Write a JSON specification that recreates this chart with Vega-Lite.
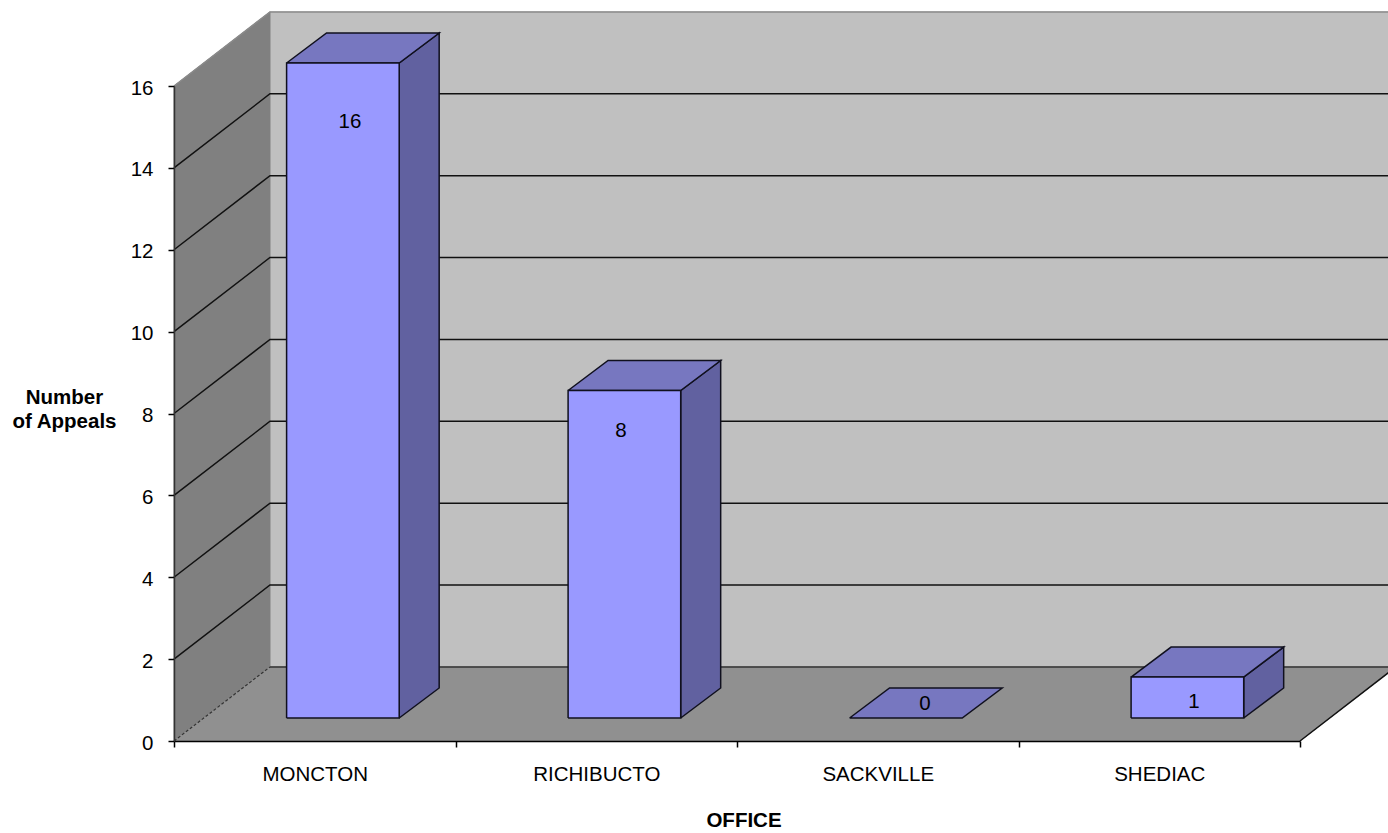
{"$schema":"https://vega.github.io/schema/vega-lite/v6.json","width":1126,"height":655,"autosize":{"type":"none"},"padding":{"left":174,"top":86,"right":88,"bottom":92},"background":"white","config":{"view":{"stroke":null},"font":"Liberation Sans","axis":{"grid":false}},
"data":{"values":[{"office":"MONCTON","appeals":16},{"office":"RICHIBUCTO","appeals":8},{"office":"SACKVILLE","appeals":0},{"office":"SHEDIAC","appeals":1}]},
"transform":[{"window":[{"op":"row_number","as":"n"}]},{"calculate":"datum.n-1","as":"i"}],
"resolve":{"scale":{"x":"independent"},"axis":{"x":"independent","y":"independent"}},
"layer":[
{"mark":{"type":"tick","opacity":0},"encoding":{"x":{"field":"office","type":"nominal","sort":null,"scale":{"paddingInner":0,"paddingOuter":0},"axis":{"title":"OFFICE","titleFont":"Liberation Sans","titleFontSize":20.5,"titleFontWeight":"bold","titleColor":"#000000","titleX":569.5,"titleY":79.5,"titleBaseline":"middle","titleAlign":"center","labelAngle":0,"labelFont":"Liberation Sans","labelFontSize":20.5,"labelColor":"#000000","labelPadding":17,"tickBand":"extent","tickSize":6,"tickColor":"#000000","tickWidth":1.5,"domainColor":"#000000","domainWidth":1.5,"zindex":1}},"y":{"field":"appeals","type":"quantitative","scale":{"domain":[0,16],"nice":false},"axis":{"values":[0,2,4,6,8,10,12,14,16],"title":["Number","of Appeals"],"titleFont":"Liberation Sans","titleFontSize":20.5,"titleFontWeight":"bold","titleColor":"#000000","titleAngle":0,"titleX":-110,"titleY":311,"titleAlign":"center","titleBaseline":"middle","titleLineHeight":24.5,"labelFont":"Liberation Sans","labelFontSize":20.5,"labelColor":"#000000","labelPadding":15,"labelOffset":2,"tickSize":6,"tickColor":"#000000","tickWidth":1.5,"domainColor":"#333333","domainWidth":1.5,"zindex":1}}}},
{"data":{"values":[{"part":"back wall"}]},"transform":[{"calculate":"[0.341,4.341,4.341,0.341,0.341]","as":"px"},{"calculate":"[1.81,1.81,17.81,17.81,1.81]","as":"py"},{"calculate":"[0,1,2,3,4]","as":"ord"},{"flatten":["px","py","ord"]}],"mark":{"type":"line","fill":"#C0C0C0","stroke":"#C0C0C0","strokeWidth":1},"encoding":{"x":{"field":"px","type":"quantitative","scale":{"domain":[0,4]},"axis":null},"y":{"field":"py","type":"quantitative","axis":null},"order":{"field":"ord"}}},
{"data":{"values":[{"part":"left wall"}]},"transform":[{"calculate":"[0,0.341,0.341,0,0]","as":"px"},{"calculate":"[0,1.81,17.81,16,0]","as":"py"},{"calculate":"[0,1,2,3,4]","as":"ord"},{"flatten":["px","py","ord"]}],"mark":{"type":"line","fill":"#808080","stroke":"#808080","strokeWidth":1},"encoding":{"x":{"field":"px","type":"quantitative","scale":{"domain":[0,4]},"axis":null},"y":{"field":"py","type":"quantitative","axis":null},"order":{"field":"ord"}}},
{"data":{"values":[{"part":"floor"}]},"transform":[{"calculate":"[0,0.341,4.341,4,0]","as":"px"},{"calculate":"[0,1.81,1.81,0,0]","as":"py"},{"calculate":"[0,1,2,3,4]","as":"ord"},{"flatten":["px","py","ord"]}],"mark":{"type":"line","fill":"#909090","stroke":"#909090","strokeWidth":1},"encoding":{"x":{"field":"px","type":"quantitative","scale":{"domain":[0,4]},"axis":null},"y":{"field":"py","type":"quantitative","axis":null},"order":{"field":"ord"}}},
{"data":{"values":[{"level":2},{"level":4},{"level":6},{"level":8},{"level":10},{"level":12},{"level":14}]},"transform":[{"calculate":"[0,0.341,4.341]","as":"px"},{"calculate":"[datum.level,datum.level+1.81,datum.level+1.81]","as":"py"},{"calculate":"[0,1,2]","as":"ord"},{"flatten":["px","py","ord"]}],"mark":{"type":"line","stroke":"#111111","strokeWidth":1.5},"encoding":{"x":{"field":"px","type":"quantitative","scale":{"domain":[0,4]},"axis":null},"y":{"field":"py","type":"quantitative","axis":null},"detail":{"field":"level"},"order":{"field":"ord"}}},
{"data":{"values":[{"level":16}]},"transform":[{"calculate":"[0,0.341,4.341]","as":"px"},{"calculate":"[datum.level,datum.level+1.81,datum.level+1.81]","as":"py"},{"calculate":"[0,1,2]","as":"ord"},{"flatten":["px","py","ord"]}],"mark":{"type":"line","stroke":"#8a8a8a","strokeWidth":1.5},"encoding":{"x":{"field":"px","type":"quantitative","scale":{"domain":[0,4]},"axis":null},"y":{"field":"py","type":"quantitative","axis":null},"order":{"field":"ord"}}},
{"data":{"values":[{"edge":"floor back"}]},"transform":[{"calculate":"[0.341,4.341]","as":"px"},{"calculate":"[1.81,1.81]","as":"py"},{"calculate":"[0,1]","as":"ord"},{"flatten":["px","py","ord"]}],"mark":{"type":"line","stroke":"#333333","strokeWidth":1.5},"encoding":{"x":{"field":"px","type":"quantitative","scale":{"domain":[0,4]},"axis":null},"y":{"field":"py","type":"quantitative","axis":null},"order":{"field":"ord"}}},
{"data":{"values":[{"edge":"floor left"}]},"transform":[{"calculate":"[0,0.341]","as":"px"},{"calculate":"[0,1.81]","as":"py"},{"calculate":"[0,1]","as":"ord"},{"flatten":["px","py","ord"]}],"mark":{"type":"line","stroke":"#333333","strokeWidth":1.2,"strokeDash":[3,2]},"encoding":{"x":{"field":"px","type":"quantitative","scale":{"domain":[0,4]},"axis":null},"y":{"field":"py","type":"quantitative","axis":null},"order":{"field":"ord"}}},
{"data":{"values":[{"edge":"floor right"}]},"transform":[{"calculate":"[4,4.341]","as":"px"},{"calculate":"[0,1.81]","as":"py"},{"calculate":"[0,1]","as":"ord"},{"flatten":["px","py","ord"]}],"mark":{"type":"line","stroke":"#111111","strokeWidth":1.5},"encoding":{"x":{"field":"px","type":"quantitative","scale":{"domain":[0,4]},"axis":null},"y":{"field":"py","type":"quantitative","axis":null},"order":{"field":"ord"}}},
{"transform":[{"filter":"datum.appeals>0"},{"calculate":"[datum.i+0.8,datum.i+0.942,datum.i+0.942,datum.i+0.8,datum.i+0.8]","as":"px"},{"calculate":"[0.562,1.295,datum.appeals+1.295,datum.appeals+0.562,0.562]","as":"py"},{"calculate":"[0,1,2,3,4]","as":"ord"},{"flatten":["px","py","ord"]}],"mark":{"type":"line","fill":"#6161A0","stroke":"#10101e","strokeWidth":1.5},"encoding":{"x":{"field":"px","type":"quantitative","scale":{"domain":[0,4]},"axis":null},"y":{"field":"py","type":"quantitative","axis":null},"detail":{"field":"office"},"order":{"field":"ord"}}},
{"transform":[{"calculate":"[datum.i+0.4,datum.i+0.542,datum.i+0.942,datum.i+0.8,datum.i+0.4]","as":"px"},{"calculate":"[datum.appeals+0.562,datum.appeals+1.295,datum.appeals+1.295,datum.appeals+0.562,datum.appeals+0.562]","as":"py"},{"calculate":"[0,1,2,3,4]","as":"ord"},{"flatten":["px","py","ord"]}],"mark":{"type":"line","fill":"#7777C0","stroke":"#10101e","strokeWidth":1.5},"encoding":{"x":{"field":"px","type":"quantitative","scale":{"domain":[0,4]},"axis":null},"y":{"field":"py","type":"quantitative","axis":null},"detail":{"field":"office"},"order":{"field":"ord"}}},
{"transform":[{"filter":"datum.appeals>0"},{"calculate":"[datum.i+0.4,datum.i+0.8,datum.i+0.8,datum.i+0.4,datum.i+0.4]","as":"px"},{"calculate":"[0.562,0.562,datum.appeals+0.562,datum.appeals+0.562,0.562]","as":"py"},{"calculate":"[0,1,2,3,4]","as":"ord"},{"flatten":["px","py","ord"]}],"mark":{"type":"line","fill":"#9999FF","stroke":"#10101e","strokeWidth":1.5},"encoding":{"x":{"field":"px","type":"quantitative","scale":{"domain":[0,4]},"axis":null},"y":{"field":"py","type":"quantitative","axis":null},"detail":{"field":"office"},"order":{"field":"ord"}}},
{"transform":[{"calculate":"[0.625,1.588,2.668,3.623][datum.i]","as":"lx"},{"calculate":"[15.12,7.57,0.904,0.953][datum.i]","as":"ly"}],"mark":{"type":"text","fontSize":20.5,"font":"Liberation Sans","color":"#000000","align":"center","baseline":"middle"},"encoding":{"x":{"field":"lx","type":"quantitative","scale":{"domain":[0,4]},"axis":null},"y":{"field":"ly","type":"quantitative","axis":null},"text":{"field":"appeals","type":"quantitative"}}}
]}
